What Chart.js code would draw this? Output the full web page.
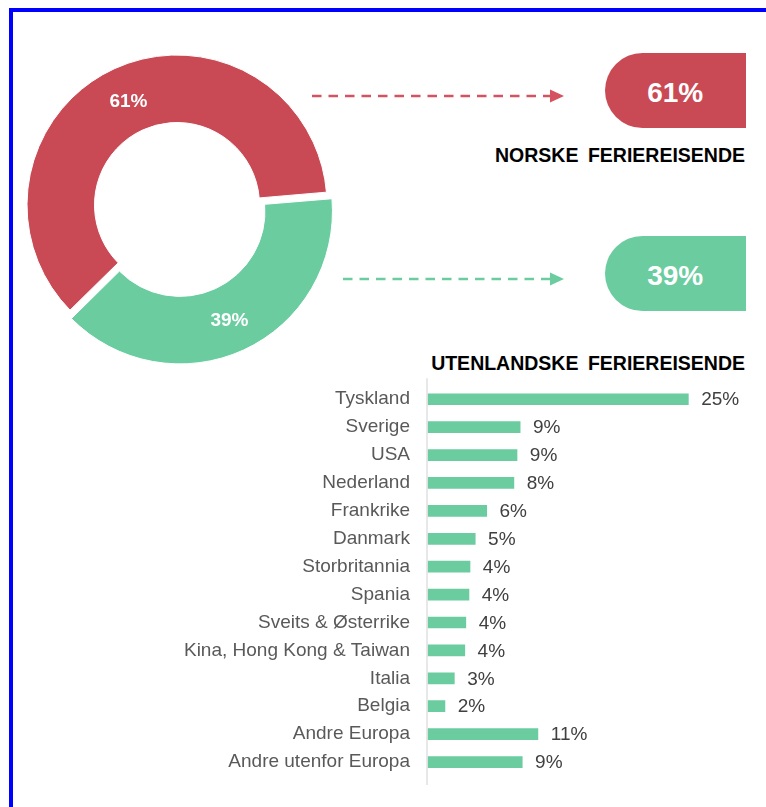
<!DOCTYPE html>
<html lang="no">
<head>
<meta charset="UTF-8">
<title>Feriereisende</title>
<script src="https://cdn.jsdelivr.net/npm/chart.js@4.4.0/dist/chart.umd.min.js"></script>
<style>
  html, body { margin: 0; padding: 0; background: #fff; }
  body {
    width: 766px; height: 807px; position: relative; overflow: hidden;
    font-family: "Liberation Sans", Arial, sans-serif;
  }
  .frame {
    position: absolute; left: 9px; top: 8px; width: 800px; height: 850px;
    border-left: 4px solid #0000ff; border-top: 4px solid #0000ff;
  }
  #donut { position: absolute; left: 17px; top: 45px; }
  #bars { position: absolute; left: 0; top: 370px; }
  .arrows { position: absolute; left: 0; top: 0; }
  .pill {
    position: absolute; left: 605px; width: 140.5px; height: 75px;
    border-radius: 37.5px 0 0 37.5px;
    color: #fff; font-weight: bold; font-size: 28px; line-height: 80px; text-align: center;
  }
  .head {
    position: absolute; right: 21px; font-weight: bold; font-size: 19.5px;
    line-height: 24px; word-spacing: 4px; color: #000; white-space: nowrap;
  }
</style>
</head>
<body>
<div class="frame"></div>

<svg class="arrows" width="766" height="807">
  <line x1="312" y1="96" x2="550" y2="96" stroke="#d4535e" stroke-width="2.5" stroke-dasharray="9.5 7"/>
  <polygon points="550,89.5 564,96 550,102.5" fill="#d4535e"/>
  <line x1="343" y1="279" x2="550" y2="279" stroke="#6bcca0" stroke-width="2.5" stroke-dasharray="9.5 7"/>
  <polygon points="550,272.5 564,279 550,285.5" fill="#6bcca0"/>
</svg>

<div class="pill" id="pillNo" style="top:53px; background:#c94a55;"></div>
<div class="head" id="headNo" style="top:143px;"></div>
<div class="pill" id="pillUt" style="top:236px; background:#6bcca0;"></div>
<div class="head" id="headUt" style="top:350.5px;"></div>

<canvas id="donut" width="320" height="320"></canvas>
<canvas id="bars" width="766" height="430"></canvas>

<script>
// andel norske / utenlandske
var shareLabels = ['NORSKE  FERIEREISENDE', 'UTENLANDSKE  FERIEREISENDE'];
var shareValues = [61, 39];

// utenlandske feriereisende etter land
var countries = ['Tyskland', 'Sverige', 'USA', 'Nederland', 'Frankrike', 'Danmark',
  'Storbritannia', 'Spania', 'Sveits & Østerrike', 'Kina, Hong Kong & Taiwan',
  'Italia', 'Belgia', 'Andre Europa', 'Andre utenfor Europa'];
var countryValues = [25, 8.9, 8.6, 8.3, 5.7, 4.6, 4.1, 4.0, 3.7, 3.6, 2.6, 1.7, 10.6, 9.1];
var barText = ['25%', '9%', '9%', '8%', '6%', '5%', '4%', '4%', '4%', '4%', '3%', '2%', '11%', '9%'];

var RED = '#c94a55';
var GREEN = '#6bcca0';
var FONT = '"Liberation Sans", Arial, sans-serif';

document.getElementById('pillNo').textContent = shareValues[0] + '%';
document.getElementById('pillUt').textContent = shareValues[1] + '%';
document.getElementById('headNo').textContent = shareLabels[0].replace(/\s+/, ' ');
document.getElementById('headUt').textContent = shareLabels[1].replace(/\s+/, ' ');

// prosent inne i ringen
var donutLabels = {
  id: 'donutLabels',
  afterDatasetsDraw: function(chart) {
    var ctx = chart.ctx;
    var arcs = chart.getDatasetMeta(0).data;
    ctx.save();
    ctx.fillStyle = '#fff';
    ctx.font = 'bold 19px ' + FONT;
    ctx.textAlign = 'center';
    ctx.textBaseline = 'middle';
    arcs.forEach(function(a, i) {
      var mid = (a.startAngle + a.endAngle) / 2;
      var r = (a.innerRadius + a.outerRadius) / 2 + (a.options.offset || 0) / 3;
      ctx.fillText(shareValues[i] + '%', a.x + Math.cos(mid) * r, a.y + Math.sin(mid) * r + 2);
    });
    ctx.restore();
  }
};

new Chart(document.getElementById('donut'), {
  type: 'doughnut',
  data: {
    labels: shareLabels,
    datasets: [{
      data: shareValues,
      backgroundColor: [RED, GREEN],
      borderColor: '#fff',
      borderWidth: 1,
      offset: [0, 28]
    }]
  },
  options: {
    responsive: false,
    animation: false,
    rotation: 225.5,
    cutout: '55%',
    radius: 150,
    plugins: { legend: { display: false }, tooltip: { enabled: false } }
  },
  plugins: [donutLabels]
});

// verdier bak stolpene + aksestrek
var barExtras = {
  id: 'barExtras',
  afterDatasetsDraw: function(chart) {
    var ctx = chart.ctx;
    var area = chart.chartArea;
    ctx.save();
    ctx.strokeStyle = '#d9d9d9';
    ctx.lineWidth = 1.2;
    ctx.beginPath();
    ctx.moveTo(area.left - 0.5, area.top - 7);
    ctx.lineTo(area.left - 0.5, area.bottom + 9);
    ctx.stroke();

    ctx.fillStyle = '#404040';
    ctx.font = '19px ' + FONT;
    ctx.textAlign = 'left';
    ctx.textBaseline = 'middle';
    chart.getDatasetMeta(0).data.forEach(function(bar, i) {
      ctx.fillText(barText[i], bar.x + 12.5, bar.y + 1);
    });
    ctx.restore();
  }
};

new Chart(document.getElementById('bars'), {
  type: 'bar',
  data: {
    labels: countries,
    datasets: [{
      data: countryValues,
      backgroundColor: GREEN,
      barPercentage: 0.42,
      categoryPercentage: 1
    }]
  },
  options: {
    indexAxis: 'y',
    responsive: false,
    animation: false,
    layout: { padding: { top: 15.3, bottom: 24, left: 0, right: 0 } },
    scales: {
      x: { display: false, min: 0, max: 32.4 },
      y: {
        afterFit: function(s) { s.width = 427.5; },
        // tick-lengden gir avstanden til etikettene, padding=0 så den ikke presser plottet
        grid: { display: false, drawTicks: true, tickLength: 17.5 },
        border: { display: false },
        ticks: { padding: 0, color: '#595959', font: { family: FONT, size: 19 } }
      }
    },
    plugins: { legend: { display: false }, tooltip: { enabled: false } }
  },
  plugins: [barExtras]
});
</script>
</body>
</html>
